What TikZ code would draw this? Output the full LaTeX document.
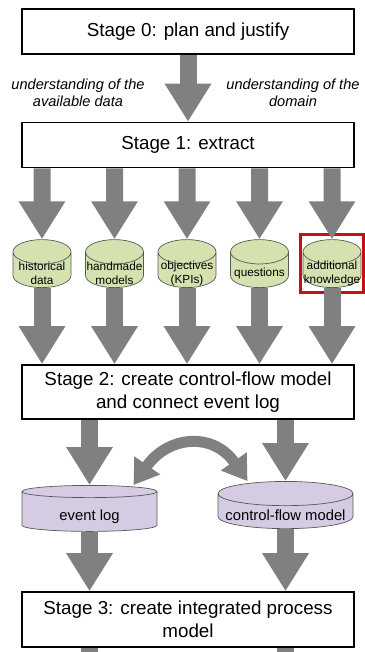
\documentclass[tikz,border=0pt]{standalone}
\usepackage{fontspec}
\setmainfont{Liberation Sans}
\usetikzlibrary{arrows.meta,shapes.geometric,positioning,fit}

\definecolor{arrowgray}{RGB}{128,128,128}
\definecolor{datagreen}{RGB}{212,226,176}
\definecolor{logpurple}{RGB}{213,204,227}
\definecolor{markred}{RGB}{196,18,18}

% fixed-size label boxes, so every store gets the same height
% and the text sits in the body below the lid
\newcommand\storelabel[1]{\raisebox{-5pt}[2pt][2pt]{\parbox{57pt}{\centering #1}}}
\newcommand\loglabel[1]{\raisebox{-6pt}[7pt][3pt]{#1}}

\begin{document}
\begin{tikzpicture}[x=1pt,
            y=1pt,
            node distance=72.5pt,
            stage/.style={draw, line width=1.6pt, fill=white,
                minimum width=332pt, minimum height=45pt, inner sep=5pt,
                align=center, font=\fontsize{18.8}{23}\selectfont},
            store/.style={cylinder, shape border rotate=90, draw=black!65,
                line width=0.7pt, aspect=0.42, fill=datagreen,
                minimum width=58pt, minimum height=48pt,
                inner xsep=0.5pt, inner ysep=1pt,
                font=\fontsize{11.8}{14}\selectfont},
            bigstore/.style={store, fill=logpurple, aspect=0.2,
                minimum width=135pt, minimum height=46pt,
                font=\fontsize{14.8}{17}\selectfont},
            note/.style={align=center, font=\itshape\fontsize{14.6}{17}\selectfont},
            fat/.style={draw=arrowgray, line width=17pt,
                -{Triangle[length=38pt,width=44pt]}},
            exchange/.style={draw=arrowgray, line width=11pt,
                {Triangle[length=24pt,width=30pt]}-{Triangle[length=24pt,width=30pt]}}]

        \useasboundingbox (0,0) rectangle (364,-652);

        % stages
        \node[stage] (s0) at (188,-31.5) {Stage 0: plan and justify};
        \node[stage] (s1) at (188,-145)  {Stage 1: extract};
        \node[stage, minimum height=54pt] (s2) at (188,-392)
            {Stage 2: create control-flow model\\and connect event log};
        \node[stage, minimum height=55pt] (s3) at (188,-619.5)
            {Stage 3: create integrated process\\model};

        \node[note] (ldata) at (78,-93)  {understanding of the\\available data};
        \node[note] (ldom)  at (293,-93) {understanding of the\\domain};

        % extracted inputs
        \node[store] (hist)              at (42,-271) {\storelabel{historical\\data}};
        \node[store] (hand) [right of=hist] {\storelabel{handmade\\models}};
        \node[store] (obj)  [right of=hand] {\storelabel{objectives\\(KPIs)}};
        \node[store] (ques) [right of=obj]  {\storelabel{questions}};
        \node[store] (addk) [right of=ques] {\storelabel{additional\\knowledge}};

        \node[draw=markred, line width=3pt, fit=(addk),
              inner xsep=2pt, inner ysep=5pt] (mark) {};

        \node[bigstore] (elog) at (89.5,-512)  {\loglabel{event log}};
        \node[bigstore] (cfm)  at (285.5,-512) {\loglabel{control-flow model}};

        \draw[fat] (s0) -- (s1);
        \foreach \c in {hist,hand,obj,ques,addk} {
            \draw[fat] (s1.south -| \c) -- (\c.north);
            \draw[fat] (\c.south) -- (s2.north -| \c);
        }
        \foreach \c in {elog,cfm} {
            \draw[fat] (s2.south -| \c) -- (\c.north);
            \draw[fat] (\c.south) -- (s3.north -| \c);
            \draw[draw=arrowgray, line width=17pt] (s3.south -| \c) -- ++(0,-10);
        }

        \draw[exchange] ([xshift=44pt]elog.north)
            to[out=55, in=125, looseness=1.35] ([xshift=-38pt]cfm.north);

\end{tikzpicture}
\end{document}
